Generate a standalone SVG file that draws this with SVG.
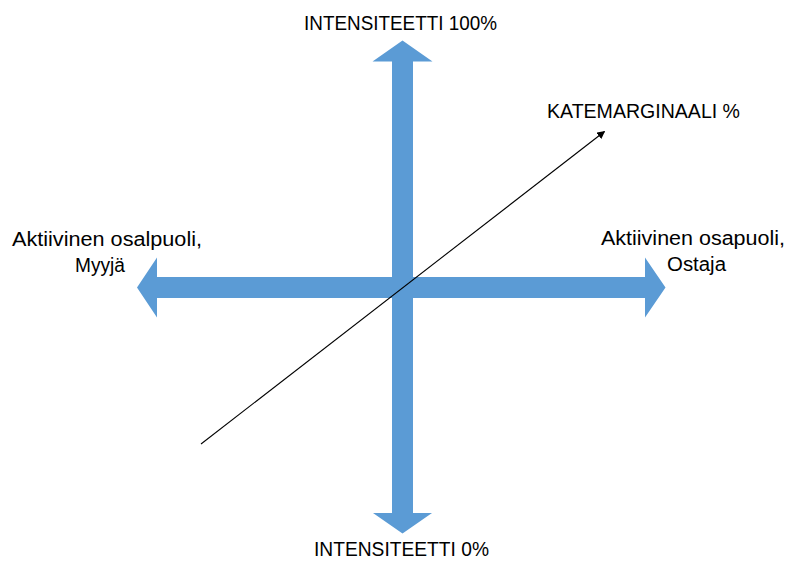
<svg xmlns="http://www.w3.org/2000/svg" width="788" height="561" viewBox="0 0 788 561">
  <style>
    .arrow { fill: #5B9BD5; stroke: none; }
    .lbl { font-family: "Liberation Sans", Arial, sans-serif; font-size: 20px; fill: #000; }
    .axis { stroke: #000; stroke-width: 1.1; fill: none; }
  </style>
  <defs>
    <marker id="ah" viewBox="0 0 10 10" refX="9" refY="5" markerWidth="8" markerHeight="8" markerUnits="userSpaceOnUse" orient="auto">
      <path d="M0,0 L10,5 L0,10 z" fill="#000"/>
    </marker>
  </defs>
  <rect width="788" height="561" fill="#fff"/>
  <g id="vertical-arrow">
    <polygon class="arrow" points="402.5,40.5 432.5,61.5 413,61.5 413,513 432,513 402.5,533.5 373,513 392,513 392,61.5 372.5,61.5"/>
  </g>
  <g id="horizontal-arrow">
    <polygon class="arrow" points="137,287.5 157,257.5 157,277 645,277 645,257.5 665.5,287.5 645,317.5 645,298 157,298 157,317.5"/>
  </g>
  <g id="connectors">
    <line class="axis" x1="201" y1="444" x2="604.5" y2="131.5" marker-end="url(#ah)"/>
  </g>
  <g id="label-top">
    <text class="lbl" x="304" y="30" textLength="193" lengthAdjust="spacingAndGlyphs">INTENSITEETTI 100%</text>
  </g>
  <g id="label-bottom">
    <text class="lbl" x="314" y="556" textLength="175" lengthAdjust="spacingAndGlyphs">INTENSITEETTI 0%</text>
  </g>
  <g id="label-diagonal">
    <text class="lbl" x="547" y="118" textLength="193" lengthAdjust="spacingAndGlyphs">KATEMARGINAALI %</text>
  </g>
  <g id="label-left">
    <text class="lbl" x="12" y="246" textLength="190" lengthAdjust="spacingAndGlyphs">Aktiivinen osalpuoli,</text>
    <text class="lbl" x="75" y="272" textLength="50" lengthAdjust="spacingAndGlyphs">Myyjä</text>
  </g>
  <g id="label-right">
    <text class="lbl" x="601" y="245" textLength="184" lengthAdjust="spacingAndGlyphs">Aktiivinen osapuoli,</text>
    <text class="lbl" x="667" y="271" textLength="59" lengthAdjust="spacingAndGlyphs">Ostaja</text>
  </g>
</svg>
